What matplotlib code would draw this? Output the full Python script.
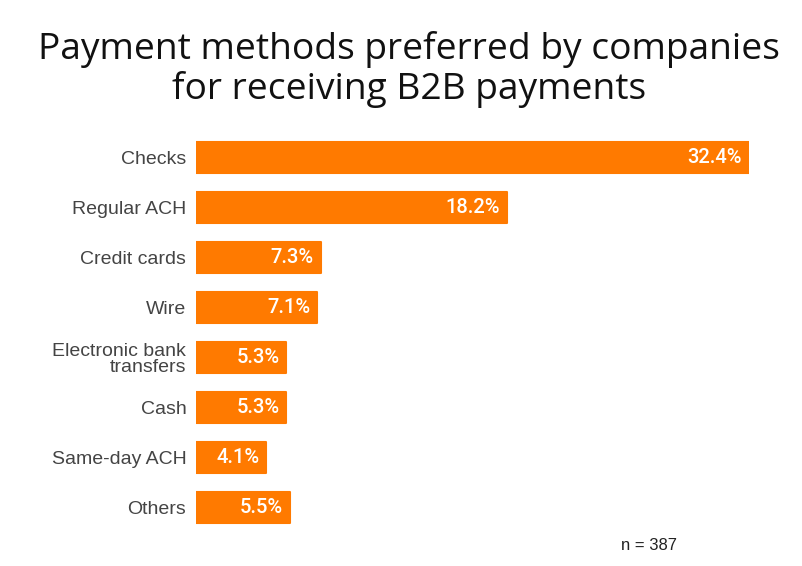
import matplotlib.pyplot as plt

categories = ['Checks', 'Regular ACH', 'Credit cards', 'Wire',
              'Electronic bank\ntransfers', 'Cash', 'Same-day ACH', 'Others']
shares = [32.4, 18.2, 7.3, 7.1, 5.3, 5.3, 4.1, 5.5]
value_labels = ['32.4%', '18.2%', '7.3%', '7.1%', '5.3%', '5.3%', '4.1%', '5.5%']

orange = '#FF7A00'

fig = plt.figure(figsize=(8.03, 5.66), dpi=100)
ax = fig.add_axes([196 / 803, 0.0583, (749 - 196) / 803, 0.7085])

pos = list(range(len(categories)))
bars = ax.barh(pos, shares, height=0.62, color=orange, edgecolor=orange, linewidth=1.5)
for b in bars:
    b.set_joinstyle('round')

# labels inside bar ends
for p, v, t in zip(pos, shares, value_labels):
    ax.text(v - 0.4, p, t, ha='right', va='center', color='white',
            fontsize=14.5, fontweight='medium', family='Roboto')

ax.set_xlim(0, 32.4)
ax.set_ylim(len(categories) - 0.5, -0.5)
ax.set_yticks(pos)
ax.set_yticklabels(categories, fontsize=14, color='#444444', family='Liberation Sans',
                   linespacing=0.95)
ax.tick_params(axis='y', length=0, pad=7)
ax.set_xticks([])
for s in ax.spines.values():
    s.set_visible(False)

fig.text(0.509, 0.877, 'Payment methods preferred by companies\nfor receiving B2B payments',
         ha='center', va='center', fontsize=26.7, family='Open Sans',
         color='#111111', linespacing=1.08)
fig.text(0.808, 0.037, 'n = 387', ha='center', va='center', fontsize=12,
         family='Liberation Sans', color='#222222')

fig.savefig('out.png', dpi=100)
